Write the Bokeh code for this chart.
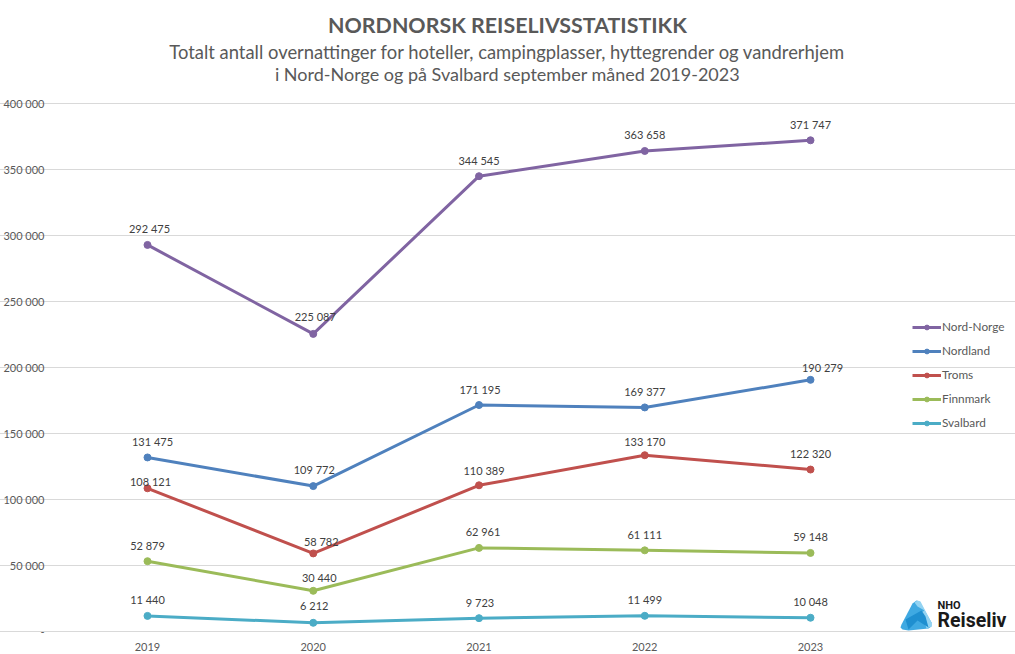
from bokeh.plotting import figure
from bokeh.models import (Range1d, FixedTicker, Legend, LegendItem, Label, PolyAnnotation,
                          ColumnDataSource, LabelSet, Grid, LinearAxis)
from bokeh.embed import file_html
from bokeh.resources import INLINE
from bokeh.core.properties import value

years = [2019, 2020, 2021, 2022, 2023]
nord_norge = [292475, 225087, 344545, 363658, 371747]
nordland = [131475, 109772, 171195, 169377, 190279]
troms = [108121, 58782, 110389, 133170, 122320]
finnmark = [52879, 30440, 62961, 61111, 59148]
svalbard = [11440, 6212, 9723, 11499, 10048]
y_ticks = [0, 50000, 100000, 150000, 200000, 250000, 300000, 350000, 400000]
y_tick_labels = ["-", "50 000", "100 000", "150 000", "200 000", "250 000", "300 000", "350 000", "400 000"]
title_text = "NORDNORSK REISELIVSSTATISTIKK"
subtitle_1 = "Totalt antall overnattinger for hoteller, campingplasser, hyttegrender og vandrerhjem"
subtitle_2 = "i Nord-Norge og på Svalbard september måned 2019-2023"

series = [
    ("Nord-Norge", nord_norge, "#8064A2", [2, 2, 0, 0, 0], [16, 17, 16, 16, 16]),
    ("Nordland", nordland, "#4F81BD", [5, 1, 1, 0, 12], [16, 17, 16, 16, 12]),
    ("Troms", troms, "#C0504D", [3, 8, 5, 0, 0], [7, 12, 15, 14, 16]),
    ("Finnmark", finnmark, "#9BBB59", [0, 6, 4, 0, 0], [16, 13, 16, 16, 16]),
    ("Svalbard", svalbard, "#4BACC6", [0, 1, 1, 0, 0], [16, 17, 16, 16, 16]),
]

FONT = "Lato"
OFF = 8                   # canvas sits 8px up and left of the page's corner
W, H = 1015 + OFF, 654 + OFF
PX_YEAR = 165.75          # pixels per category
PX_Y = 528 / 400000       # pixels per unit
X0, Y0 = 147 + OFF, 630.5 + OFF   # canvas position of 2019 and of zero
x_left = 2019 - 83 / PX_YEAR    # plot area's left edge (x=64)
x_right = 2023 + 83 / PX_YEAR   # plot area's right edge (x=893)

p = figure(width=W, height=H,
           x_range=Range1d(2019 - X0 / PX_YEAR, 2019 + (W - X0) / PX_YEAR),
           y_range=Range1d(-(H - Y0) / PX_Y, Y0 / PX_Y),
           x_axis_type=None, y_axis_type=None,
           output_backend="svg", toolbar_location=None,
           min_border=0, min_border_left=0, min_border_right=0, min_border_top=0, min_border_bottom=0,
           margin=(-8, 0, 0, -8), outline_line_color=None, background_fill_color="white")

grid = Grid(dimension=1, ticker=FixedTicker(ticks=y_ticks), grid_line_color="#D9D9D9", bounds=(x_left, x_right))
p.renderers.append(grid)

yaxis = LinearAxis(ticker=FixedTicker(ticks=y_ticks), major_label_overrides=dict(zip(y_ticks, y_tick_labels)),
                   fixed_location=x_left, axis_line_color=None, major_tick_line_color=None,
                   minor_tick_line_color=None, major_label_standoff=14, major_label_text_font=FONT,
                   major_label_text_font_size="11px", major_label_text_color="#595959")
p.add_layout(yaxis, "left")
xaxis = LinearAxis(ticker=FixedTicker(ticks=years), major_label_overrides={y: str(y) for y in years},
                   fixed_location=0, bounds=(x_left, x_right), axis_line_color="#D9D9D9", major_tick_line_color=None,
                   minor_tick_line_color=None, major_label_standoff=6, major_label_text_font=FONT,
                   major_label_text_font_size="11px", major_label_text_color="#595959")
p.add_layout(xaxis, "below")

items = []
for name, vals, color, dx, dy in series:
    src = ColumnDataSource(dict(x=years, y=vals, t=[f"{v:,}".replace(",", " ") for v in vals], dx=dx, dy=dy))
    ln = p.line("x", "y", source=src, line_color=color, line_width=3)
    pt = p.scatter("x", "y", source=src, size=7, fill_color=color, line_color=color)
    p.add_layout(LabelSet(x="x", y="y", text="t", source=src, x_offset="dx", y_offset="dy",
                          text_align="center", text_baseline="middle", text_font=value(FONT),
                          text_font_size="11px", text_color="#404040"))
    items.append(LegendItem(label=name, renderers=[ln, pt]))

legend = Legend(items=items, location=(912 + OFF, 224), orientation="vertical", border_line_color=None,
                background_fill_alpha=0, glyph_width=29, glyph_height=12, label_standoff=1, spacing=9,
                padding=0, margin=0, label_text_font=FONT, label_text_font_size="11.8px",
                label_text_color="#595959", label_height=12)
p.add_layout(legend, "center")

for txt, y, size, style in [(title_text, 24, "21.4px", "bold"), (subtitle_1, 51, "18.4px", "normal"), (subtitle_2, 73, "18px", "normal")]:
    p.add_layout(Label(x=507 + OFF, y=y + OFF, x_units="canvas", y_units="canvas", text=txt, text_align="center",
                       text_baseline="middle", text_font=FONT, text_font_size=size, text_font_style=style,
                       text_color="#595959"))

# logo
logo_parts = [
    ([901, 912, 916, 919, 931, 931, 928, 908, 902, 900], [624, 603, 600, 601, 622, 626, 628, 630, 629, 627], "#3FA9E2"),
    ([914, 917, 920, 931, 931, 926, 921, 924, 917], [602, 600, 601, 622, 626, 628, 612, 610, 606], "#93D3F2"),
    ([905, 921, 925, 928, 917, 908], [619, 610, 616, 627, 620, 629], "#1F8FD0"),
]
for xs, ys, col in logo_parts:
    p.add_layout(PolyAnnotation(xs=[v + OFF for v in xs], ys=[v + OFF for v in ys], xs_units="canvas", ys_units="canvas",
                                fill_color=col, fill_alpha=1, line_color=None))
p.add_layout(Label(x=937 + OFF, y=605 + OFF, x_units="canvas", y_units="canvas", text="NHO", text_baseline="middle",
                   text_font="Roboto", text_font_size="11px", text_font_style="bold", text_color="#1a1a1a"))
p.add_layout(Label(x=937 + OFF, y=620 + OFF, x_units="canvas", y_units="canvas", text="Reiseliv", text_baseline="middle",
                   text_font="Roboto", text_font_size="19.5px", text_font_style="bold", text_color="#1a1a1a"))

open("out.html", "w").write(file_html(p, INLINE))
